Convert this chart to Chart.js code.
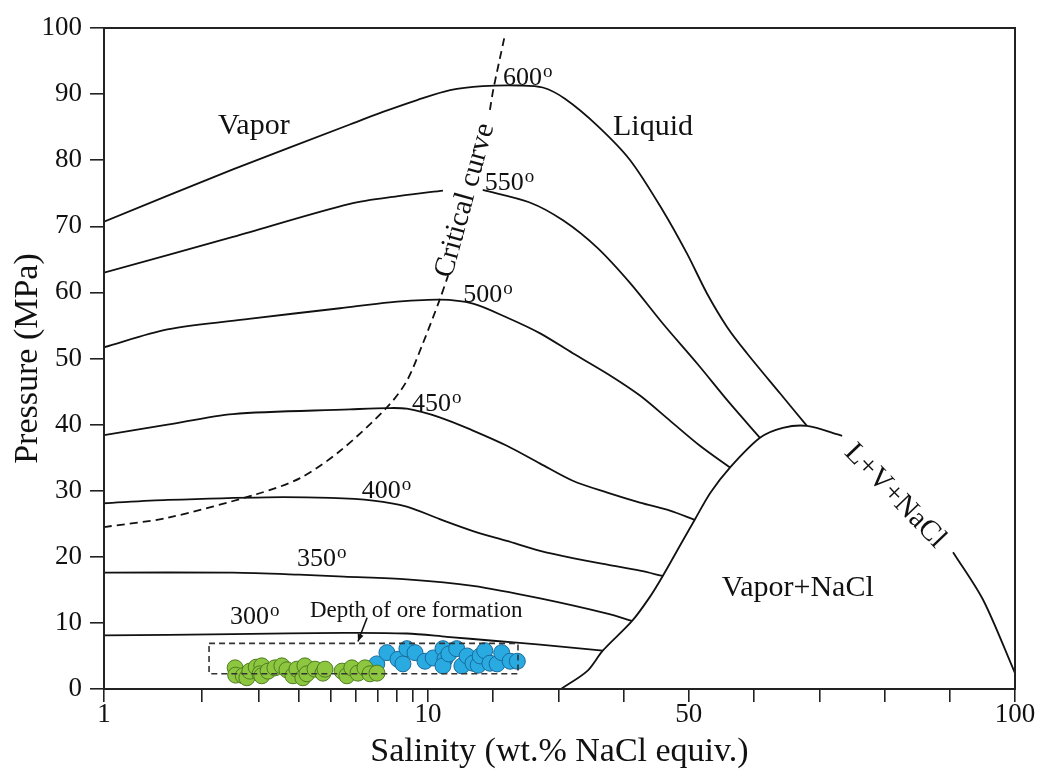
<!DOCTYPE html>
<html><head><meta charset="utf-8">
<script src="https://cdn.jsdelivr.net/npm/chart.js@4.4.1/dist/chart.umd.min.js"></script>
<style>html,body{margin:0;padding:0;background:#fff}#wrap{width:1037px;height:769px;position:relative}</style>
</head><body><div id="wrap"><canvas id="c"></canvas></div>
<script>
// ---------- data (salinity wt.% NaCl, pressure MPa) ----------
const xTickValues = [1,2,3,4,5,6,7,8,9,10,20,30,40,50,60,70,80,90,100];
const xTickLabels = {1:'1', 10:'10', 50:'50', 100:'100'};
const yTickStep = 10;

const iso600 = [[1,70.7],[2.5,78.6],[5.74,85.4],[7.26,87.3],[9.26,89.1],[13.4,90.6],[18.4,91.2],[24,91.3],[27.6,91.0],[31,89.3],[36,85.2],[41,80.0],[46,72.4],[49.7,65.9],[52.8,59.8],[55.9,54.7],[58.9,50.8],[64,44.7],[68.1,39.8]];
const iso550a = [[1,63],[2.5,68.4],[5.74,73.4],[8.2,74.6],[12.3,75.4]];
const iso550b = [[18.4,75.5],[25.6,73.6],[30.7,70.9],[35.9,66.8],[41,61.4],[46,55.3],[51.3,49.2],[56.3,43.2],[60.9,38.0]];
const iso500 = [[1,51.7],[1.57,54.4],[2.8,56],[5.35,57.6],[7.62,58.5],[11.8,58.9],[16.9,58.3],[22.1,56.2],[27.2,53.8],[32.2,50.8],[37.5,47.7],[42.5,44.4],[47.1,40.6],[51.7,36.8],[56.3,33.5]];
const iso450 = [[1,38.4],[1.57,40.0],[2.5,41.6],[5.74,42.3],[7.5,42.5],[8.6,42.4],[11.8,41.1],[16.9,39.1],[22.1,36.8],[27.2,34.1],[32.2,31.5],[37.5,29.7],[42.5,28.2],[47.1,27.0],[50.9,25.6]];
const iso400 = [[1,28.1],[1.57,28.6],[3.18,29.0],[5.0,28.9],[6.77,28.5],[8.6,27.6],[11.8,25.7],[16.9,23.9],[22.1,22.4],[27.2,20.9],[32.2,19.8],[37.5,18.8],[42.5,17.9],[46,17.1]];
const iso350 = [[1,17.6],[2.5,17.6],[4,17.3],[5.5,17.0],[8.6,16.6],[16.9,15.6],[27.2,13.7],[37.5,11.4],[41.3,10.3]];
const iso300 = [[1,8.1],[2.5,8.3],[5.5,8.5],[8.6,8.4],[12.9,7.9],[20,7.3],[27.2,6.7],[36.8,5.8]];
const haliteA = [[30.4,0],[34.4,2.7],[36.8,5.8],[41.3,10.3],[44,13.9],[46,17.1],[49.1,22.5],[50.9,25.6],[53.3,29.7],[56.3,33.5],[60.9,38.0],[64.4,39.5],[68.1,39.8],[73.5,38.3]];
const haliteB = [[90.5,20.7],[95.1,13.5],[100,2.4]];
const criticalA = [[1,24.5],[1.57,25.9],[2.97,29.5],[4.03,31.9],[5.35,36.0],[7.47,42.6],[8.6,46.6],[9.63,52.2],[11.8,58.9],[13.1,62.6]];
const criticalB = [[19.5,87.6],[20,90.6],[21.7,98.5]];
const oreBox = [[2.11,6.9],[23.8,6.9],[23.8,2.3],[2.11,2.3],[2.11,6.9]];
const greenPts = [[2.54,3.2],[2.55,2.1],[2.69,2.0],[2.76,1.7],[2.82,2.7],[2.95,3.3],[3.07,3.5],[3.03,2.3],[3.07,2.0],[3.21,2.7],[3.37,3.2],[3.54,3.5],[3.67,2.9],[3.83,2.0],[3.94,3.0],[4.11,1.7],[4.17,3.5],[4.23,2.3],[4.48,3.0],[4.74,2.4],[4.81,3.0],[5.43,2.7],[5.62,2.0],[5.82,3.2],[6.08,2.4],[6.39,3.2],[6.62,2.3],[6.96,2.4]];
const bluePts = [[6.95,3.8],[7.47,5.5],[8.08,4.5],[8.37,3.8],[8.61,6.1],[9.12,5.5],[9.79,4.2],[10.8,4.7],[12.3,6.1],[12.6,4.5],[12.3,3.5],[13.2,5.3],[14.4,6.1],[15.2,3.5],[16.0,5.0],[16.9,3.9],[17.7,3.6],[18.0,5.0],[18.7,5.8],[19.5,3.9],[20.6,3.8],[21.3,5.5],[22.6,4.2],[23.7,4.2]];

// ---------- annotations (data coordinates) ----------
const isoLabels = [
  {t:'600', s:21.5, p:91.4}, {t:'550', s:18.7, p:75.5}, {t:'500', s:15.4, p:58.5},
  {t:'450', s:8.93, p:42.1}, {t:'400', s:6.25, p:28.9}, {t:'350', s:3.94, p:18.6},
  {t:'300', s:2.45, p:9.8}
];
const notes = [
  {t:'Vapor', s:2.90, p:85.2, size:30, rot:0},
  {t:'Liquid', s:44.5, p:85.0, size:30, rot:0},
  {t:'Vapor+NaCl', s:66.7, p:15.3, size:30, rot:0},
  {t:'L+V+NaCl', s:81.6, p:29.2, size:29, rot:46},
  {t:'Critical curve', s:15.7, p:73.9, size:29, rot:-74.5}
];
const depthNote = {t:'Depth of ore formation', s:4.32, p:10.9, size:23};
const arrowNote = {from:[6.49,10.8], to:[6.08,7.2]};

// ---------- custom piecewise salinity scale (log 1-10, linear 10-100) ----------
const LIN_SPAN = 1.812;
function salUnit(v){ return v <= 10 ? Math.log10(Math.max(v,1e-6)) : 1 + (v-10)/90*LIN_SPAN; }
function unitSal(u){ return u <= 1 ? Math.pow(10,u) : 10 + (u-1)*90/LIN_SPAN; }
class SalinityScale extends Chart.LinearScale {
  getPixelForValue(v){
    const a = salUnit(this.min), b = salUnit(this.max);
    return this.getPixelForDecimal((salUnit(v)-a)/(b-a));
  }
  getValueForPixel(px){
    const a = salUnit(this.min), b = salUnit(this.max);
    return unitSal(a + this.getDecimalForPixel(px)*(b-a));
  }
}
SalinityScale.id = 'salinity';
SalinityScale.defaults = Chart.LinearScale.defaults;
Chart.register(SalinityScale);

const SERIF = "'Liberation Serif','Times New Roman',serif";
const INK = '#111';
const pts = arr => arr.map(([x,y]) => ({x, y}));
const lineDs = (arr, extra) => Object.assign({data: pts(arr), showLine:true, pointRadius:0, borderColor:INK, borderWidth:1.8, fill:false, tension:0.3}, extra||{});

const annot = {
  id:'annot',
  afterDatasetsDraw(chart){
    const {ctx, scales:{x, y}} = chart;
    ctx.save();
    ctx.fillStyle = INK;
    isoLabels.forEach(l => {
      const px = x.getPixelForValue(l.s), py = y.getPixelForValue(l.p);
      ctx.font = `26px ${SERIF}`; ctx.textAlign='left'; ctx.textBaseline='alphabetic';
      ctx.fillText(l.t, px, py);
      const w = ctx.measureText(l.t).width;
      ctx.font = `19px ${SERIF}`;
      ctx.fillText('o', px + w + 1, py - 8);
    });
    notes.forEach(n => {
      ctx.save();
      ctx.translate(x.getPixelForValue(n.s), y.getPixelForValue(n.p));
      ctx.rotate(n.rot*Math.PI/180);
      ctx.font = `${n.size}px ${SERIF}`; ctx.textAlign='center'; ctx.textBaseline='middle';
      ctx.fillText(n.t, 0, 0);
      ctx.restore();
    });
    ctx.font = `${depthNote.size}px ${SERIF}`; ctx.textAlign='left'; ctx.textBaseline='alphabetic';
    ctx.fillText(depthNote.t, x.getPixelForValue(depthNote.s), y.getPixelForValue(depthNote.p));
    const x1 = x.getPixelForValue(arrowNote.from[0]), y1 = y.getPixelForValue(arrowNote.from[1]);
    const x2 = x.getPixelForValue(arrowNote.to[0]), y2 = y.getPixelForValue(arrowNote.to[1]);
    ctx.strokeStyle = INK; ctx.lineWidth = 1.5;
    ctx.beginPath(); ctx.moveTo(x1,y1); ctx.lineTo(x2,y2); ctx.stroke();
    const ang = Math.atan2(y2-y1, x2-x1), L = 8;
    ctx.beginPath();
    ctx.moveTo(x2,y2);
    ctx.lineTo(x2 - L*Math.cos(ang-0.4), y2 - L*Math.sin(ang-0.4));
    ctx.lineTo(x2 - L*Math.cos(ang+0.4), y2 - L*Math.sin(ang+0.4));
    ctx.closePath(); ctx.fill();
    ctx.restore();
  },
  afterDraw(chart){
    const {ctx, chartArea:a} = chart;
    ctx.save(); ctx.strokeStyle = '#222'; ctx.lineWidth = 2;
    ctx.strokeRect(a.left, a.top, a.right-a.left, a.bottom-a.top);
    ctx.restore();
  }
};

new Chart(document.getElementById('c'), {
  type:'scatter',
  data:{ datasets:[
    lineDs(oreBox, {borderDash:[6,4], borderColor:'#333', borderWidth:1.6, tension:0}),
    {data:pts(greenPts), pointRadius:8, backgroundColor:'#8dc63f', borderColor:'#4e7d22', borderWidth:1},
    {data:pts(bluePts), pointRadius:8, backgroundColor:'#29abe2', borderColor:'#1a6a9c', borderWidth:1},
    lineDs(criticalA, {borderDash:[8,5]}),
    lineDs(criticalB, {borderDash:[8,5]}),
    lineDs(iso600), lineDs(iso550a), lineDs(iso550b), lineDs(iso500), lineDs(iso450),
    lineDs(iso400), lineDs(iso350), lineDs(iso300), lineDs(haliteA), lineDs(haliteB)
  ]},
  options:{
    responsive:true, maintainAspectRatio:false, animation:false, events:[],
    layout:{padding:{left:0, right:22, top:28, bottom:0}},
    plugins:{legend:{display:false}, tooltip:{enabled:false}},
    scales:{
      x:{
        type:'salinity', min:1, max:100,
        afterBuildTicks: s => { s.ticks = xTickValues.map(v => ({value:v})); },
        afterFit: s => { s.height = 80; },
        ticks:{autoSkip:false, maxRotation:0, padding:-1, color:INK,
          font:{family:SERIF, size:27, lineHeight:1},
          callback: v => xTickLabels[v] || ''},
        grid:{drawOnChartArea:false, drawTicks:true, tickLength:13, color:'#222', lineWidth:1.6},
        border:{display:true, color:'#222', width:2},
        title:{display:true, text:'Salinity (wt.% NaCl equiv.)', color:INK,
          font:{family:SERIF, size:34, lineHeight:1}, padding:{top:0, bottom:0}}
      },
      y:{
        type:'linear', min:0, max:100,
        afterFit: s => { s.width = 104; },
        ticks:{stepSize:yTickStep, padding:8, color:INK, font:{family:SERIF, size:27}},
        grid:{drawOnChartArea:false, drawTicks:true, tickLength:14, color:'#222', lineWidth:1.6},
        border:{display:true, color:'#222', width:2},
        title:{display:true, text:'Pressure (MPa)', color:INK,
          font:{family:SERIF, size:34, lineHeight:1}, padding:{top:11, bottom:0}}
      }
    }
  },
  plugins:[annot]
});
</script></body></html>
